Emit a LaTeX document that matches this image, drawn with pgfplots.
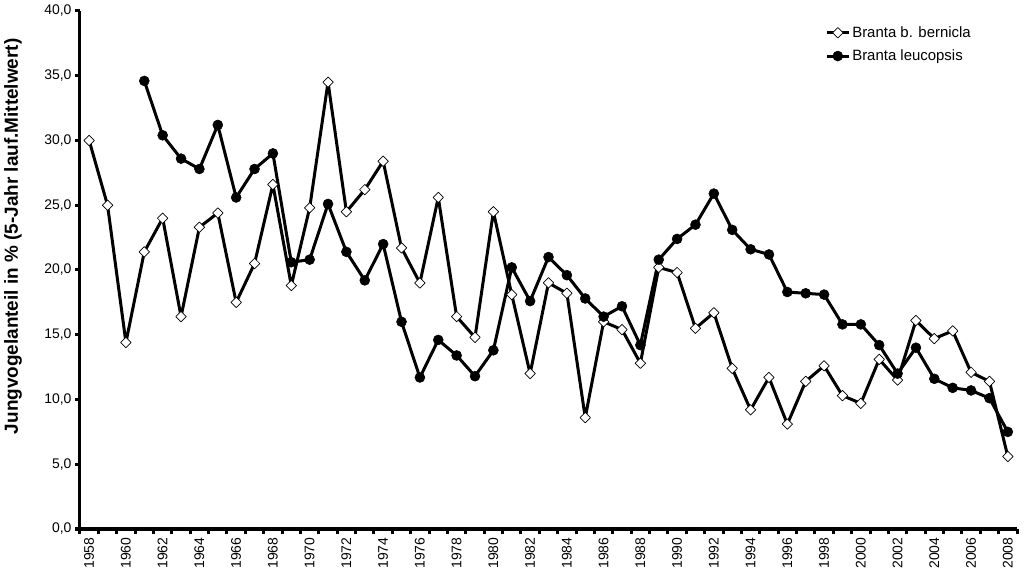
\documentclass[border=0pt]{standalone}
\usepackage{fontspec}
\setmainfont{Liberation Sans}
\usepackage{pgfplots}
\usepackage{pgfplotstable}
\pgfplotsset{compat=1.18}

% Jungvogelanteil, 5-Jahr laufender Mittelwert
\pgfplotstableread{
year val
1958 30.0
1959 25.0
1960 14.4
1961 21.4
1962 24.0
1963 16.4
1964 23.3
1965 24.4
1966 17.5
1967 20.5
1968 26.6
1969 18.8
1970 24.8
1971 34.5
1972 24.5
1973 26.2
1974 28.4
1975 21.7
1976 19.0
1977 25.6
1978 16.4
1979 14.8
1980 24.5
1981 18.1
1982 12.0
1983 19.0
1984 18.2
1985 8.6
1986 16.0
1987 15.4
1988 12.8
1989 20.2
1990 19.8
1991 15.5
1992 16.7
1993 12.4
1994 9.2
1995 11.7
1996 8.1
1997 11.4
1998 12.6
1999 10.3
2000 9.7
2001 13.1
2002 11.5
2003 16.1
2004 14.7
2005 15.3
2006 12.1
2007 11.4
2008 5.6
}\bernicla

\pgfplotstableread{
year val
1961 34.6
1962 30.4
1963 28.6
1964 27.8
1965 31.2
1966 25.6
1967 27.8
1968 29.0
1969 20.6
1970 20.8
1971 25.1
1972 21.4
1973 19.2
1974 22.0
1975 16.0
1976 11.7
1977 14.6
1978 13.4
1979 11.8
1980 13.8
1981 20.2
1982 17.6
1983 21.0
1984 19.6
1985 17.8
1986 16.4
1987 17.2
1988 14.2
1989 20.8
1990 22.4
1991 23.5
1992 25.9
1993 23.1
1994 21.6
1995 21.2
1996 18.3
1997 18.2
1998 18.1
1999 15.8
2000 15.8
2001 14.2
2002 12.0
2003 14.0
2004 11.6
2005 10.9
2006 10.7
2007 10.1
2008 7.5
}\leucopsis

\begin{document}
\begin{tikzpicture}
\useasboundingbox (-80bp,-57bp) rectangle (944bp,529bp);
\begin{axis}[
    at={(0,0)}, anchor=south west,
    scale only axis,
    width=937bp, height=518bp,
    xmin=1957.5, xmax=2008.5,
    ymin=0, ymax=40,
    axis x line=bottom, axis y line=left,
    axis line style={line width=3bp, -},
    xtick={1958,1960,...,2008},
    minor xtick={1957.5,1958.5,...,2008.5},
    ytick={0,5,...,40},
    tick align=outside,
    major x tick style={draw=none},
    minor tick length=5bp,
    major tick length=5bp,
    every tick/.style={black, line width=3bp},
    /pgf/number format/assume math mode=true,
    tick label style={font=\fontsize{14}{16}\selectfont},
    xticklabel style={rotate=90, anchor=east, /pgf/number format/1000 sep={}},
    yticklabel style={/pgf/number format/.cd, fixed, fixed zerofill, precision=1, use comma},
    ylabel={\bfseries Jungvogelanteil in \% (5-Jahr lauf.Mittelwert)},
    ylabel style={font=\fontsize{19}{21}\selectfont, at={(axis description cs:-0.0715,0.565)}, anchor=center},
    legend style={at={(0.792,0.978)}, anchor=north west, draw=none, fill=none,
        font=\fontsize{15}{17}\selectfont, row sep=7bp},
    legend cell align=left,
    legend image code/.code={
        \draw[mark repeat=2,mark phase=2,#1] plot coordinates {(0bp,0bp)(11bp,0bp)(22bp,0bp)};
    },
]
\addplot[black, line width=3bp, line join=round, mark=square*, mark size=3.7bp,
    mark options={rotate=45, fill=white, draw=black, line width=0.7bp, solid}]
    table[x=year, y=val] {\bernicla};
\addlegendentry{Branta b. bernicla}
\addplot[black, line width=3bp, line join=round, mark=*, mark size=5bp,
    mark options={fill=black, draw=black, line width=0.5bp}]
    table[x=year, y=val] {\leucopsis};
\addlegendentry{Branta leucopsis}
\end{axis}
\end{tikzpicture}
\end{document}
